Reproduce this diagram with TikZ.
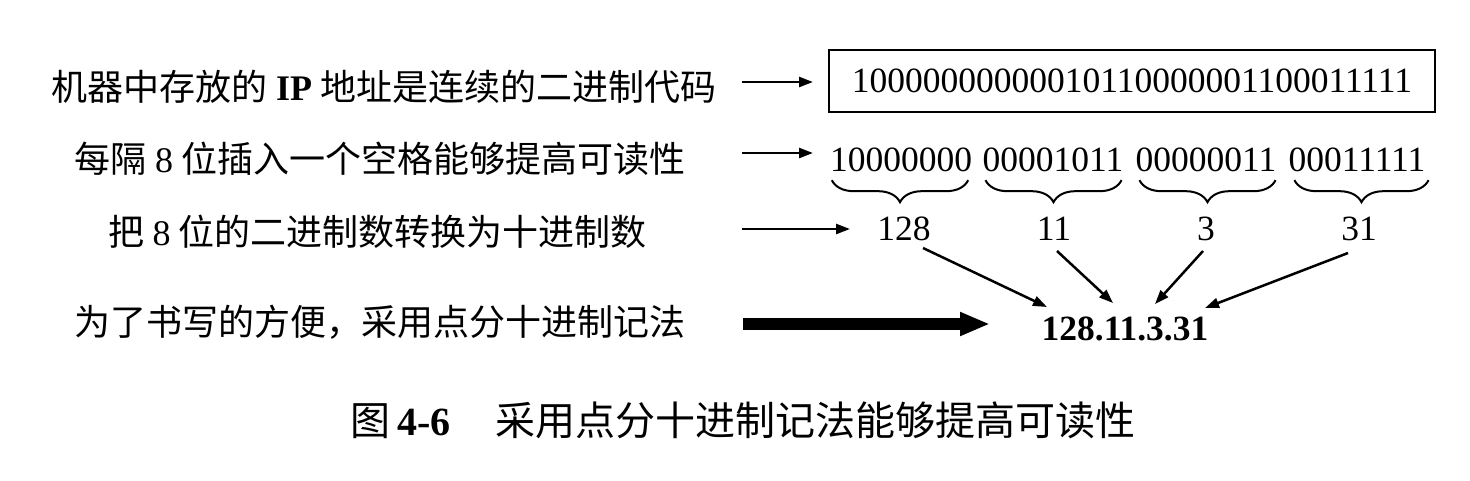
\documentclass[tikz,border=0pt]{standalone}
\usepackage{fontspec}
\setmainfont{Liberation Serif}
\newfontfamily\cjk{Noto Sans CJK SC}
\usetikzlibrary{arrows.meta,decorations.pathreplacing}
\begin{document}
\begin{tikzpicture}[x=1pt,y=-1pt,
  lbl/.style={font=\cjk\fontsize{36}{40}\selectfont, inner sep=0pt, anchor=center},
  num/.style={font=\fontsize{35.5}{40}\selectfont, inner sep=0pt},
  arr/.style={line width=2.5pt, -{Triangle[length=14pt,width=10pt]}},
  bigarr/.style={line width=12pt, -{Triangle[length=30pt,width=22pt]}},
  brc/.style={line width=2pt, decorate, decoration={brace,mirror,amplitude=22pt}},
  boxed/.style={draw, line width=2pt, minimum width=606pt, minimum height=62pt, inner sep=0pt}]
\useasboundingbox (0,0) rectangle (1470,480);

% left labels
\node[lbl] (t1) at (384,87) {机器中存放的 {\rmfamily\bfseries IP} 地址是连续的二进制代码};
\node[lbl] (t2) at (380,159) {每隔 {\rmfamily 8} 位插入一个空格能够提高可读性};
\node[lbl] (t3) at (377.5,232) {把 {\rmfamily 8} 位的二进制数转换为十进制数};
\node[lbl] (t4) at (380,322.5) {为了书写的方便，采用点分十进制记法};

% row 1: boxed binary
\node[boxed, num] (box) at (1132,81) {10000000000010110000001100011111};

% row 2: groups
\node[num] (g1) at (901,160) {10000000};
\node[num] (g2) at (1053,160) {00001011};
\node[num] (g3) at (1206,160) {00000011};
\node[num] (g4) at (1357,160) {00011111};

% braces
\draw[brc] ([shift={(2,8)}]g1.south west) -- ([shift={(-4,8)}]g1.south east);
\draw[brc] ([shift={(3,8)}]g2.south west) -- ([shift={(-2,8)}]g2.south east);
\draw[brc] ([shift={(4,8)}]g3.south west) -- ([shift={(-1,8)}]g3.south east);
\draw[brc] ([shift={(6,8)}]g4.south west) -- ([shift={(3,8)}]g4.south east);

% row 3: decimal numbers
\node[num] (n1) at (904,228.5) {128};
\node[num] (n2) at (1054,228.5) {11};
\node[num] (n3) at (1206,228.5) {3};
\node[num] (n4) at (1359,228.5) {31};

% row 4: dotted decimal
\node[num, font=\fontsize{35.5}{40}\selectfont\bfseries] (res) at (1125,329) {128.11.3.31};

% horizontal arrows
\coordinate (a1s) at (742,82);  \coordinate (a1e) at (813,82);
\coordinate (a2s) at (742,153); \coordinate (a2e) at (813,153);
\coordinate (a3s) at (742,229); \coordinate (a3e) at (850,229);
\coordinate (a4s) at (743,324); \coordinate (a4e) at (990,324);
\draw[arr] (a1s) -- (a1e);
\draw[arr] (a2s) -- (a2e);
\draw[arr] (a3s) -- (a3e);
\draw[bigarr] (a4s) -- (a4e);

% converging arrows
\draw[arr] ([shift={(19,19.5)}]n1.center) -- ([shift={(-78,-22)}]res.center);
\draw[arr] ([shift={(3,22.5)}]n2.center) -- ([shift={(-12,-26)}]res.center);
\draw[arr] ([shift={(-3,22.5)}]n3.center) -- ([shift={(30,-25)}]res.center);
\draw[arr] ([shift={(-11,24.5)}]n4.center) -- ([shift={(80,-21)}]res.center);

% caption
\node[inner sep=0pt, anchor=west, font=\cjk\fontsize{40}{44}\selectfont] (cap) at (350,420)
  {图\hspace{7pt}{\rmfamily\bfseries 4-6}\hspace{45pt}采用点分十进制记法能够提高可读性};
\end{tikzpicture}
\end{document}
